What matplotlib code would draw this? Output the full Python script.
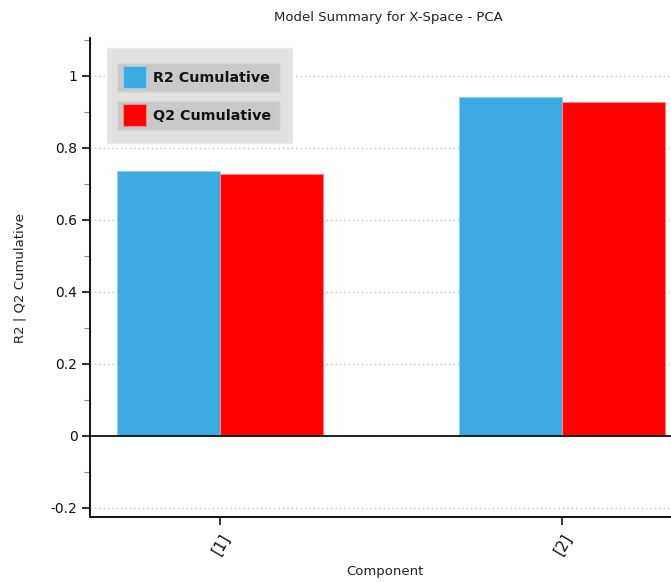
import matplotlib
matplotlib.use("Agg")
import matplotlib.pyplot as plt
from matplotlib.patches import Rectangle
from matplotlib.ticker import FixedLocator
import numpy as np

components = ["[1]", "[2]"]
r2_cum = [0.737, 0.941]
q2_cum = [0.727, 0.926]
series_names = ["R2 Cumulative", "Q2 Cumulative"]
series_colors = ["#3AAAE0", "#FF0000"]
edge_colors = ["#8FD0F0", "#FF8080"]

W, H = 671, 583
fig = plt.figure(figsize=(W / 100, H / 100), dpi=100)
plt.rcParams['font.family'] = ['DejaVu Sans']

def fx(px):
    return px / W

def fy(py):
    return 1 - py / H

ax = fig.add_axes([fx(90), fy(517), fx(671) - fx(90), fy(38) - fy(517)])

x = np.arange(len(components))
bw = 0.3
for vals, c, ec, off in zip([r2_cum, q2_cum], series_colors, edge_colors, [-bw / 2, bw / 2]):
    ax.bar(x + off, vals, width=bw, color=c, edgecolor=ec, linewidth=0.8, zorder=3)

ax.set_xlim(-0.38, 1.319)
ax.set_ylim(-0.225, 1.105)
ax.yaxis.set_major_locator(FixedLocator([-0.2, 0, 0.2, 0.4, 0.6, 0.8, 1.0]))
ax.yaxis.set_minor_locator(FixedLocator([-0.1, 0.1, 0.3, 0.5, 0.7, 0.9, 1.1]))
ax.set_yticklabels(["-0.2", "0", "0.2", "0.4", "0.6", "0.8", "1"])
ax.set_xticks(x)
ax.set_xticklabels(components, rotation=60, ha="right", va="top", rotation_mode="anchor")

ax.grid(axis="y", which="major", linestyle=(0, (1, 2.5)), color="#B8B8B8", linewidth=0.9, zorder=0)
ax.axhline(0, color="#111111", linewidth=1.3, zorder=4)

for s in ["top", "right"]:
    ax.spines[s].set_visible(False)
for s in ["left", "bottom"]:
    ax.spines[s].set_linewidth(1.4)
    ax.spines[s].set_color("#111111")

ax.tick_params(axis="y", which="major", length=6, width=1.2, labelsize=10, colors="#111111", pad=3)
ax.tick_params(axis="y", which="minor", length=4, width=0.8, color="#888888")
ax.tick_params(axis="x", which="major", length=6, width=1.2, labelsize=11, colors="#111111", pad=4)

fig.text(fx(20), fy(278), "R2 | Q2 Cumulative", rotation=90, ha="center", va="center",
         fontsize=9.5, color="#222222")
fig.text(fx(385), fy(572), "Component", ha="center", va="center", fontsize=9.5, color="#222222")
fig.text(fx(388), fy(17), "Model Summary for X-Space - PCA",
         ha="center", va="center", fontsize=9.5, color="#222222")

# legend drawn manually
fig.patches.append(Rectangle((fx(107), fy(143)), fx(292) - fx(107), fy(48) - fy(143),
                             transform=fig.transFigure, facecolor="#E1E1E1", edgecolor="#EBEBEB",
                             linewidth=1, zorder=10))
rows = [(63, 92), (101, 130)]
for (top, bot), name, c, ec in zip(rows, series_names, series_colors, edge_colors):
    fig.patches.append(Rectangle((fx(117), fy(bot)), fx(280) - fx(117), fy(top) - fy(bot),
                                 transform=fig.transFigure, facecolor="#C9C9C9", edgecolor="#D8D8D8",
                                 linewidth=1, zorder=11))
    fig.patches.append(Rectangle((fx(123), fy(bot - 4)), fx(146) - fx(123), fy(top + 3) - fy(bot - 4),
                                 transform=fig.transFigure, facecolor=c, edgecolor=ec,
                                 linewidth=0.8, zorder=12))
    fig.text(fx(153), fy((top + bot) / 2), name, ha="left", va="center", fontsize=10.3,
             fontweight="bold", color="#111111", zorder=13)

fig.savefig("out.png", dpi=100)
